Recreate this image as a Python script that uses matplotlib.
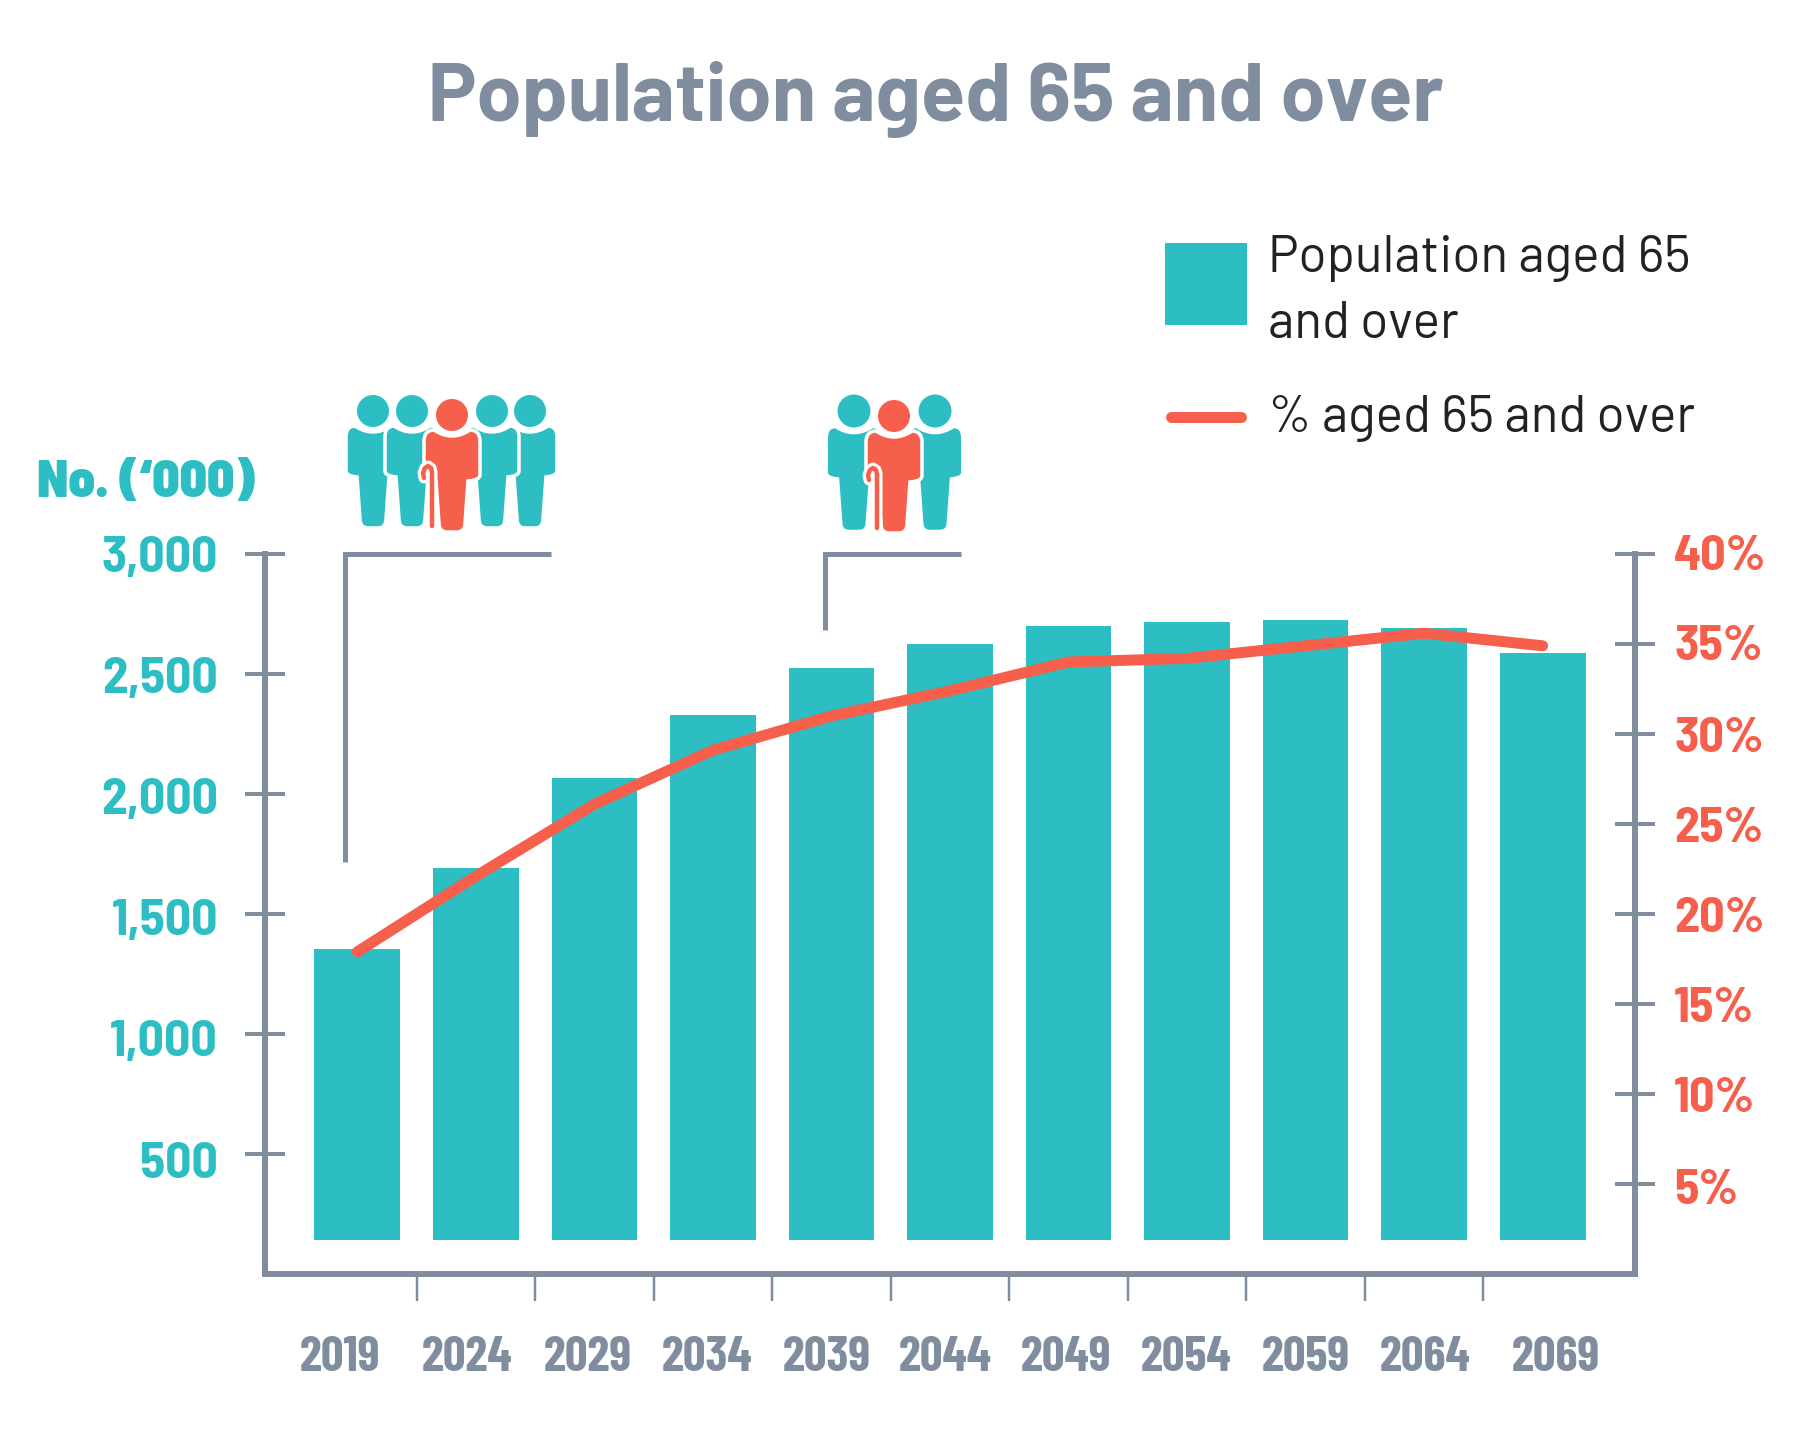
import matplotlib
matplotlib.use('Agg')
import matplotlib.pyplot as plt
from matplotlib.patches import Circle, PathPatch, Rectangle
from matplotlib.path import Path
from matplotlib.transforms import ScaledTranslation

years = ['2019', '2024', '2029', '2034', '2039', '2044', '2049', '2054', '2059', '2064', '2069']
population = [1356, 1690, 2068, 2331, 2527, 2627, 2699, 2718, 2723, 2690, 2589]
percent = [17.9, 22.1, 26.1, 29.1, 31.0, 32.4, 34.0, 34.2, 34.9, 35.6, 34.9]
left_ticks = [500, 1000, 1500, 2000, 2500, 3000]
left_labels = ['500', '1,000', '1,500', '2,000', '2,500', '3,000']
right_ticks = [5, 10, 15, 20, 25, 30, 35, 40]
right_labels = ['5%', '10%', '15%', '20%', '25%', '30%', '35%', '40%']

TEAL = '#2DBEC4'
RED = '#F55F4B'
GREY = '#808D9E'
BAR_BOTTOM = 142
PX = 72 / 100  # pixels to points
MAIN_FONT = ['Barlow', 'Roboto', 'DejaVu Sans']
SEMI_FONT = ['Barlow Semi Condensed', 'Roboto', 'DejaVu Sans']
NARROW_FONT = ['Barlow Condensed', 'Roboto', 'DejaVu Sans']

plt.rcParams['font.family'] = MAIN_FONT

fig = plt.figure(figsize=(18, 14.4), dpi=100)
ax = fig.add_axes([265 / 1800, 1 - 1274 / 1440, 1370 / 1800, 720 / 1440])
x = list(range(len(years)))

ax.bar(x, [p - BAR_BOTTOM for p in population], bottom=BAR_BOTTOM, width=0.725, color=TEAL)
ax.set_xlim(-0.78, 10.78)
ax.set_ylim(0, 3000)
ax.spines['top'].set_visible(False)
for s in ['left', 'bottom', 'right']:
    ax.spines[s].set_color(GREY)
    ax.spines[s].set_linewidth(6 * PX)

ax.set_yticks(left_ticks, left_labels)
ax.tick_params(axis='y', direction='inout', length=40 * PX, width=4 * PX, color=GREY,
               labelcolor=TEAL, labelsize=37, pad=27 * PX)
# the left labels drift lower towards the bottom of the axis
left_shift = [6, 4, 3, 2, 1, 0]
for t, dy in zip(ax.get_yticklabels(), left_shift):
    t.set_fontfamily(SEMI_FONT)
    t.set_fontweight('bold')
    t.set_transform(t.get_transform() + ScaledTranslation(0, -dy / 100, fig.dpi_scale_trans))

# years sit a little off the bar centres in the original
year_pos = [-0.15, 0.925, 1.94, 2.95, 3.96, 4.96, 5.98, 6.99, 8.0, 9.01, 10.11]
ax.set_xticks(year_pos, years)
ax.set_xticks([i + 0.5 for i in x[:-1]], minor=True)
ax.tick_params(axis='x', which='major', length=0, pad=62 * PX, labelcolor=GREY, labelsize=36)
ax.tick_params(axis='x', which='minor', length=27 * PX, width=2.5 * PX, color=GREY)
for t in ax.get_xticklabels():
    t.set_fontfamily(NARROW_FONT)
    t.set_fontweight('bold')

ax2 = ax.twinx()
ax2.plot(x, percent, color=RED, lw=11 * PX, solid_capstyle='round', solid_joinstyle='round')
ax2.set_ylim(0, 40)
ax2.set_yticks(right_ticks, right_labels)
ax2.tick_params(axis='y', direction='inout', length=40 * PX, width=4 * PX, color=GREY,
                labelcolor=RED, labelsize=36, pad=19 * PX)
right_shift = [3, 1, 1, 0, 0, 0, -1, -1]
for t, dy in zip(ax2.get_yticklabels(), right_shift):
    t.set_fontfamily(SEMI_FONT)
    t.set_fontweight('bold')
    t.set_transform(t.get_transform() + ScaledTranslation(0, -dy / 100, fig.dpi_scale_trans))
for s in ax2.spines.values():
    s.set_visible(False)

# everything outside the plot goes on an overlay in pixel coordinates
over = fig.add_axes([0, 0, 1, 1])
over.set_xlim(0, 1800)
over.set_ylim(1440, 0)
over.axis('off')
over.patch.set_alpha(0)

over.text(936, 100, 'Population aged 65 and over', color=GREY, fontsize=58.5, fontweight='bold',
          ha='center', va='center')
over.text(255, 483, 'No. (\u2018000)', color=TEAL, fontsize=38, fontweight='black', family=SEMI_FONT,
          ha='right', va='center')

over.add_patch(Rectangle((1165, 243), 82, 82, color=TEAL, lw=0))
over.plot([1171, 1241], [417, 417], color=RED, lw=11 * PX, solid_capstyle='round')
over.text(1268, 259, 'Population aged 65', color='#222222', fontsize=37, va='center')
over.text(1268, 324, 'and over', color='#222222', fontsize=37, va='center')
over.text(1268, 418, '% aged 65 and over', color='#222222', fontsize=37, va='center')


def person(cx, cy, color, half=27, k=1.0, z=5):
    w = half * k
    body = [
        (Path.MOVETO, (-18 * k, 15 * k)),
        (Path.CURVE3, (-w, 15 * k)), (Path.CURVE3, (-w, 26 * k)),
        (Path.LINETO, (-w, 60 * k)),
        (Path.CURVE3, (-w, 65 * k)), (Path.CURVE3, (-16 * k, 66 * k)),
        (Path.LINETO, (-13 * k, 108 * k)),
        (Path.CURVE3, (-13 * k, 117 * k)), (Path.CURVE3, (-5 * k, 117 * k)),
        (Path.LINETO, (5 * k, 117 * k)),
        (Path.CURVE3, (13 * k, 117 * k)), (Path.CURVE3, (13 * k, 108 * k)),
        (Path.LINETO, (16 * k, 66 * k)),
        (Path.CURVE3, (w, 65 * k)), (Path.CURVE3, (w, 60 * k)),
        (Path.LINETO, (w, 26 * k)),
        (Path.CURVE3, (w, 15 * k)), (Path.CURVE3, (18 * k, 15 * k)),
        (Path.CURVE3, (0, 27 * k)), (Path.CURVE3, (-18 * k, 15 * k)),
        (Path.CLOSEPOLY, (0, 0)),
    ]
    codes = [c for c, _ in body]
    verts = [(cx + p[0], cy + p[1]) for _, p in body]
    over.add_patch(PathPatch(Path(verts, codes), facecolor=color, edgecolor='white', lw=3.5 * PX, zorder=z))
    over.add_patch(Circle((cx, cy), 16 * k, facecolor=color, edgecolor='none', zorder=z + 0.1))


def cane(x0, y0, k=1.0):
    xs = [x0, x0, x0 - 1, x0 - 4, x0 - 7, x0 - 9, x0 - 8]
    ys = [y0, y0 - 54 * k, y0 - 58 * k, y0 - 60 * k, y0 - 58 * k, y0 - 53 * k, y0 - 48 * k]
    over.plot(xs, ys, color='white', lw=11 * PX, zorder=12, solid_capstyle='round')
    over.plot(xs, ys, color=RED, lw=4.5 * PX, zorder=12.1, solid_capstyle='round')


# five person icon
person(373, 411, TEAL, z=5)
person(530, 411, TEAL, z=5)
person(412, 411, TEAL, z=6)
person(492, 411, TEAL, z=6)
person(452, 415, RED, half=28, z=8)
cane(432, 526)

# three person icon
person(854, 411, TEAL, half=27, k=1.03, z=5)
person(935, 411, TEAL, half=27, k=1.03, z=5)
person(894, 416, RED, half=28, k=1.0, z=8)
cane(877, 528)

# brackets
over.plot([345, 345, 551], [862, 554, 554], color=GREY, lw=5 * PX, solid_capstyle='butt', solid_joinstyle='miter')
over.plot([825, 825, 961], [630, 554, 554], color=GREY, lw=5 * PX, solid_capstyle='butt', solid_joinstyle='miter')

fig.savefig('out.png', dpi=100, facecolor='white')
